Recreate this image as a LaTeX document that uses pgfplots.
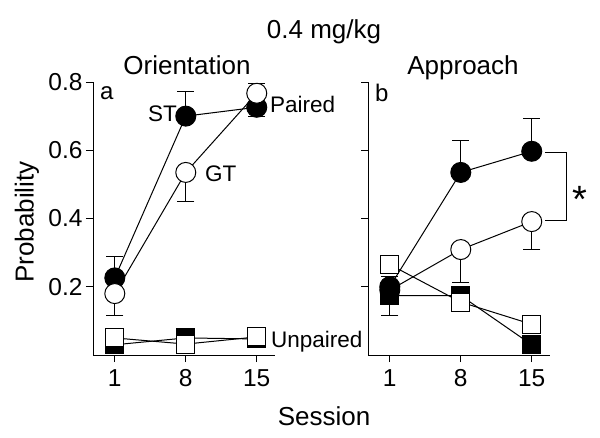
\documentclass[border=0pt]{standalone}
\usepackage{fontspec}
\setmainfont{Liberation Sans}
\usepackage{pgfplots}
\pgfplotsset{compat=1.18}
\newcommand{\fs}[1]{\fontsize{#1}{#1}\selectfont}
\pgfplotsset{
  panel/.style={
    scale only axis, width=182pt, height=273pt,
    anchor=south west,
    xmin=-1.15, xmax=16.8, ymin=0, ymax=0.8,
    axis x line*=bottom, axis y line*=left,
    tick align=outside, major tick length=7pt,
    xtick={1,8,15}, ytick={0.2,0.4,0.6,0.8},
    tick style={black, line width=1pt},
    axis line style={line width=1pt, -},
    /pgf/number format/assume math mode=true,
    ticklabel style={font=\fs{24.5}},
    xticklabel style={yshift=-4pt},
    yticklabel style={/pgf/number format/.cd, fixed, fixed zerofill, precision=1},
    clip=false,
  },
  ln/.style={black, line width=1pt, no marks},
  fc/.style={only marks, mark=*, mark size=10pt, mark options={draw=black, fill=black, line width=1pt}},
  oc/.style={only marks, mark=*, mark size=10pt, mark options={draw=black, fill=white, line width=1pt}},
  fsq/.style={only marks, mark=square*, mark size=9pt, mark options={draw=black, fill=black, line width=1pt}},
  osq/.style={only marks, mark=square*, mark size=9pt, mark options={draw=black, fill=white, line width=1pt}},
  eb/.style={error bars/.cd, y dir=#1, y explicit,
    error bar style={black, line width=1pt},
    error mark options={black, rotate=90, mark size=8.5pt, line width=1pt}},
}
\begin{document}
\begin{tikzpicture}
\path[use as bounding box] (0pt,0pt) rectangle (600pt,437pt);

% ---------------- Panel a: Orientation ----------------
\begin{axis}[panel, at={(93pt,82pt)}]
\addplot[ln] coordinates {(1,0.226) (8,0.700) (15,0.726)};
\addplot[ln] coordinates {(1,0.180) (8,0.535) (15,0.767)};
\addplot[ln] coordinates {(1,0.030) (8,0.050) (15,0.047)};
\addplot[ln] coordinates {(1,0.050) (8,0.032) (15,0.053)};
% ST paired
\addplot[fc, eb=plus] coordinates {(1,0.226) +- (0,0.062) (8,0.700) +- (0,0.073) (15,0.726) +- (0,0.069)};
% GT paired
\addplot[oc, eb=minus] coordinates {(1,0.180) +- (0,0.063) (8,0.535) +- (0,0.085) (15,0.767) +- (0,0.067)};
% unpaired
\addplot[fsq] coordinates {(1,0.030) (8,0.050) (15,0.047)};
\addplot[osq] coordinates {(1,0.050) (8,0.032) (15,0.053)};
\end{axis}

% ---------------- Panel b: Approach ----------------
\begin{axis}[panel, at={(368pt,82pt)}, yticklabels={}]
\addplot[ln] coordinates {(1,0.200) (8,0.535) (15,0.597)};
\addplot[ln] coordinates {(1,0.190) (8,0.309) (15,0.391)};
\addplot[ln] coordinates {(1,0.174) (8,0.174) (15,0.030)};
\addplot[ln] coordinates {(1,0.265) (8,0.155) (15,0.090)};
% GT paired
\addplot[oc, eb=minus] coordinates {(1,0.190) +- (0,0.075) (8,0.309) +- (0,0.097) (15,0.391) +- (0,0.082)};
% ST paired
\addplot[fc, eb=plus] coordinates {(1,0.200) +- (0,0.030) (8,0.535) +- (0,0.095) (15,0.597) +- (0,0.097)};
% unpaired
\addplot[fsq] coordinates {(1,0.174) (8,0.174) (15,0.030)};
\addplot[osq] coordinates {(1,0.265) (8,0.155) (15,0.090)};
% significance bracket
\draw[black, line width=1pt] (axis cs:16.30,0.594) -| (axis cs:18.47,0.394) -- (axis cs:16.30,0.394);
\node[font=\fs{38}, anchor=center] at (axis cs:19.75,0.455) {*};
\end{axis}

% ---------------- Texts ----------------
\node[font=\fs{26}, anchor=base] at (324pt,398.5pt) {0.4 mg/kg};
\node[font=\fs{26}, anchor=base] at (187pt,362pt) {Orientation};
\node[font=\fs{26}, anchor=base] at (463pt,362pt) {Approach};
\node[font=\fs{26}, anchor=base] at (324pt,12pt) {Session};
\node[font=\fs{26}, anchor=base, rotate=90] at (33.5pt,215pt) {Probability};
\node[font=\fs{24}, anchor=base west, inner sep=0pt] at (100pt,337pt) {a};
\node[font=\fs{24}, anchor=base west, inner sep=0pt] at (375pt,335pt) {b};
\node[font=\fs{22.5}, anchor=base west, inner sep=0pt] at (148pt,315pt) {ST};
\node[font=\fs{22.5}, anchor=base west, inner sep=0pt] at (205pt,255pt) {GT};
\node[font=\fs{22.5}, anchor=base west, inner sep=0pt] at (270pt,324pt) {Paired};
\node[font=\fs{22.5}, anchor=base west, inner sep=0pt] at (271pt,90pt) {Unpaired};
\end{tikzpicture}
\end{document}
